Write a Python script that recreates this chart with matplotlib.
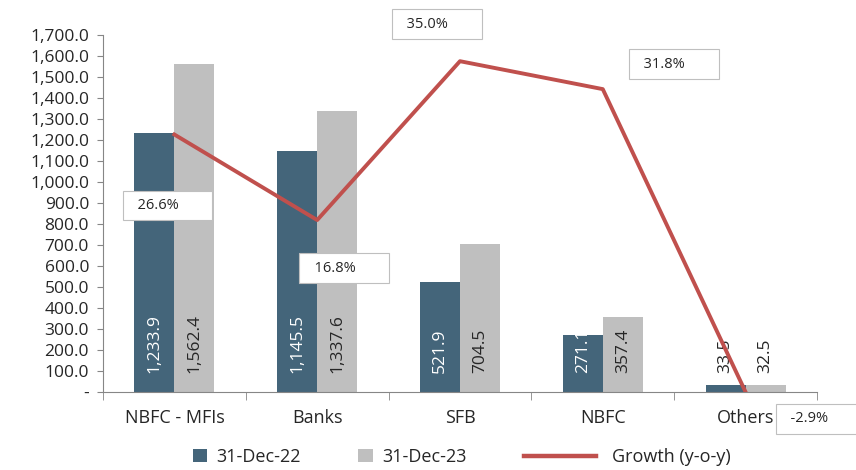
import matplotlib
matplotlib.use("Agg")
import matplotlib.pyplot as plt
import numpy as np

plt.rcParams['font.family'] = ['Open Sans', 'DejaVu Sans']

categories = ["NBFC - MFIs", "Banks", "SFB", "NBFC", "Others"]
dec22 = [1233.9, 1145.5, 521.9, 271.1, 33.5]
dec23 = [1562.4, 1337.6, 704.5, 357.4, 32.5]
growth = [26.6, 16.8, 35.0, 31.8, -2.9]
series_names = ["31-Dec-22", "31-Dec-23", "Growth (y-o-y)"]

dark = "#44657A"
grey = "#BFBFBF"
red = "#C0504D"
axis_col = "#868686"
txt = "#262626"

fig = plt.figure(figsize=(8.56, 4.70), dpi=100)
ax = fig.add_axes([0.1203, 0.166, 0.8341, 0.7595])
x = np.arange(len(categories))
w = 0.28

b1 = ax.bar(x - w / 2, dec22, w, color=dark, zorder=2)
b2 = ax.bar(x + w / 2, dec23, w, color=grey, zorder=2)

# value labels, rotated, sitting near the base
for i in range(len(x)):
    c1 = "white" if dec22[i] > 200 else txt
    ax.annotate(f"{dec22[i]:,.1f}", (x[i] - w / 2, 0), xytext=(0, 19),
                textcoords="offset pixels", rotation=90, ha="center", va="bottom",
                fontsize=12.5, color=c1, zorder=3)
    ax.annotate(f"{dec23[i]:,.1f}", (x[i] + w / 2, 0), xytext=(0, 19),
                textcoords="offset pixels", rotation=90, ha="center", va="bottom",
                fontsize=12.5, color=txt, zorder=3)

ax.set_xlim(-0.5, len(categories) - 0.5)
ax.set_ylim(0, 1700)
yt = np.arange(0, 1701, 100)
ax.set_yticks(yt)
ax.set_yticklabels(["-" if v == 0 else f"{v:,.1f}" for v in yt])
ax.set_xticks(x)
ax.set_xticklabels(categories)
ax.set_xticks(np.arange(-0.5, len(categories), 1), minor=True)
ax.tick_params(axis="x", which="major", length=0, labelsize=13, pad=12, colors=txt)
ax.tick_params(axis="x", which="minor", length=6, color=axis_col, direction="out")
ax.tick_params(axis="y", length=4, color=axis_col, labelsize=12.5, labelcolor=txt, pad=6)
for s in ["top", "right"]:
    ax.spines[s].set_visible(False)
for s in ["left", "bottom"]:
    ax.spines[s].set_color(axis_col)

ax2 = ax.twinx()
ax2.set_ylim(-2.9, 38)
ln, = ax2.plot(x, growth, color=red, lw=2.8, zorder=4)
ax2.axis("off")

offsets = [(-7, -71), (27, -48), (-23, 37), (71, 25), (73, -27)]
for i in range(len(x)):
    ax2.annotate(f"  {growth[i]:.1f}%       ", (x[i], growth[i]), xytext=offsets[i],
                 textcoords="offset pixels", ha="center", va="center", fontsize=10.5,
                 color=txt, annotation_clip=False,
                 bbox=dict(boxstyle="square,pad=0.5", fc="white", ec="#BFBFBF", lw=0.8))

fig.legend([b1, b2], series_names[:2], loc="center", bbox_to_anchor=(0.385, 0.028),
           ncol=2, frameon=False, fontsize=13, handlelength=0.8, handleheight=0.8,
           columnspacing=3.2, handletextpad=0.5, labelcolor=txt)
leg2 = fig.legend([ln], series_names[2:], loc="center", bbox_to_anchor=(0.733, 0.028),
                  frameon=False, fontsize=13, handlelength=4.0, handletextpad=0.9,
                  labelcolor=txt)
leg2.legend_handles[0].set_linewidth(3.2)

fig.savefig("out.png", dpi=100)
